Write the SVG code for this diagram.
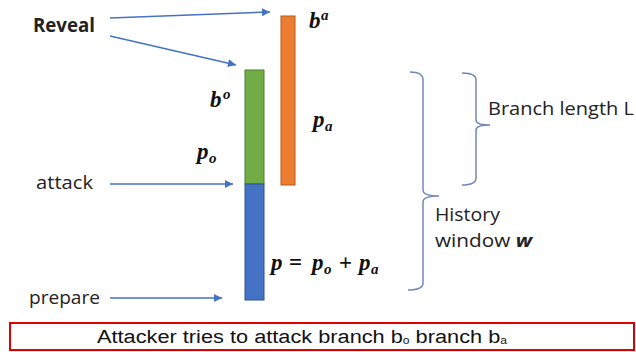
<svg xmlns="http://www.w3.org/2000/svg" width="636" height="352" viewBox="0 0 636 352">
  <defs>
    <marker id="arrow" viewBox="0 0 10 10" refX="10" refY="5" markerWidth="9" markerHeight="8" markerUnits="userSpaceOnUse" orient="auto">
      <path d="M0,0 L10,5 L0,10 z" fill="#4472C4"/>
    </marker>
    <style>
      .lbl { font-family: "Open Sans", "Liberation Sans", sans-serif; fill: #222; }
      .math { font-family: "Liberation Serif", "DejaVu Serif", serif; font-style: italic; font-weight: bold; fill: #111; font-size: 23px; }
      .sm { font-size: 15px; }
      .up { font-style: normal; }
      .conn line { stroke: #4472C4; stroke-width: 1.5; marker-end: url(#arrow); }
      .brace { fill: none; stroke: #7088b8; stroke-width: 1.5; }
    </style>
  </defs>
  <rect width="636" height="352" fill="#fff"/>

  <!-- history bars -->
  <g id="branch-a">
    <rect x="281" y="16" width="14" height="169" fill="#ED7D31" stroke="#B35A1F" stroke-width="1"/>
  </g>
  <g id="branch-o">
    <rect x="245" y="70" width="19" height="114" fill="#70AD47" stroke="#4F8030" stroke-width="1"/>
  </g>
  <g id="prefix">
    <rect x="245" y="184" width="19" height="116" fill="#4472C4" stroke="#2F528F" stroke-width="1"/>
  </g>

  <!-- arrows from the phases -->
  <g id="connectors" class="conn">
    <line x1="110" y1="18" x2="270" y2="12"/>
    <line x1="110" y1="36" x2="236" y2="65"/>
    <line x1="110" y1="184" x2="233" y2="184"/>
    <line x1="110" y1="298" x2="222" y2="298"/>
  </g>

  <!-- phase labels -->
  <g id="reveal"><text class="lbl" x="33" y="32" font-size="19" font-weight="bold" textLength="62" lengthAdjust="spacingAndGlyphs">Reveal</text></g>
  <g id="attack"><text class="lbl" x="36" y="189" font-size="19" textLength="57" lengthAdjust="spacingAndGlyphs">attack</text></g>
  <g id="prepare"><text class="lbl" x="29" y="304" font-size="19" textLength="71" lengthAdjust="spacingAndGlyphs">prepare</text></g>

  <!-- math labels -->
  <g id="label-ba"><text class="math" x="309" y="28">b<tspan class="sm" x="321" y="20">a</tspan></text></g>
  <g id="label-bo"><text class="math" x="210" y="107">b<tspan class="sm" x="223" y="99">o</tspan></text></g>
  <g id="label-po"><text class="math" x="197" y="159">p<tspan class="sm" x="209" y="163">o</tspan></text></g>
  <g id="label-pa"><text class="math" x="313" y="127">p<tspan class="sm" x="325" y="131">a</tspan></text></g>
  <g id="label-p"><text class="math" x="271" y="270">p<tspan class="up" x="289">=</tspan><tspan x="312">p</tspan><tspan class="sm" x="324" y="274">o</tspan><tspan class="up" x="339" y="270">+</tspan><tspan x="359">p</tspan><tspan class="sm" x="371" y="274">a</tspan></text></g>

  <!-- braces -->
  <g id="branch-length">
    <path class="brace" d="M462,73 Q476,73 476,80 L476,120 Q476,125 490,125 Q476,125 476,130 L476,178 Q476,185 462,185"/>
    <text class="lbl" x="488" y="115" font-size="18" textLength="146" lengthAdjust="spacingAndGlyphs">Branch length L</text>
  </g>
  <g id="history-window">
    <path class="brace" d="M410,72 Q423,72 423,80 L423,190 Q423,196 439,196 Q423,196 423,202 L423,283 Q423,290 408,290"/>
    <text class="lbl" x="435" y="221" font-size="18" textLength="65" lengthAdjust="spacingAndGlyphs">History</text>
    <text class="lbl" x="435" y="247" font-size="18" textLength="97" lengthAdjust="spacingAndGlyphs">window <tspan font-weight="bold" font-style="italic">w</tspan></text>
  </g>

  <!-- caption box -->
  <g id="caption">
    <rect x="10" y="323" width="624" height="27" fill="#fff" stroke="#E00000" stroke-width="2"/>
    <text x="97" y="343" font-family="Liberation Sans, Arial, sans-serif" font-size="18" fill="#111" textLength="410" lengthAdjust="spacingAndGlyphs">Attacker tries to attack branch b<tspan font-size="10" dy="1">o</tspan><tspan dy="-1"> branch b</tspan><tspan font-size="10" dy="1">a</tspan></text>
  </g>
</svg>
